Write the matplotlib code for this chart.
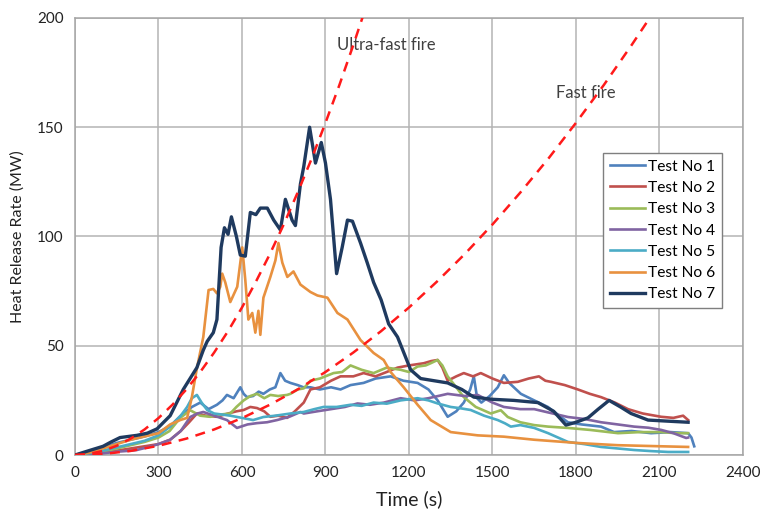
import matplotlib
matplotlib.use('Agg')
import matplotlib.pyplot as plt

plt.rcParams['font.family'] = ['Lato', 'DejaVu Sans']

# t-squared design fires (MW)
ULTRA_T = [0, 50, 100, 150, 200, 250, 300, 350, 400, 450, 500, 550, 600, 650,
           700, 750, 800, 850, 900, 950, 1000, 1033]
ULTRA_Q = [0, 0.47, 1.88, 4.22, 7.5, 11.7, 16.9, 23.0, 30.0, 38.0, 46.9, 56.7,
           67.5, 79.3, 91.9, 105.5, 120.1, 135.5, 152.0, 169.3, 187.6, 200.2]
FAST_T = [0, 100, 200, 300, 400, 500, 600, 700, 800, 900, 1000, 1100, 1200,
          1300, 1400, 1500, 1600, 1700, 1800, 1900, 2000, 2065]
FAST_Q = [0, 0.47, 1.88, 4.22, 7.5, 11.7, 16.9, 23.0, 30.0, 38.0, 46.9, 56.7,
          67.5, 79.3, 91.9, 105.5, 120.1, 135.5, 152.0, 169.3, 187.6, 200.0]

T1 = [0, 30, 60, 100, 150, 200, 250, 300, 340, 380, 420, 450, 480, 510, 530,
      546, 570, 594, 606, 618, 640, 660, 677, 700, 720, 738, 755, 774, 800,
      821, 846, 880, 920, 954, 990, 1037, 1080, 1134, 1180, 1231, 1270, 1303,
      1339, 1370, 1397, 1420, 1433, 1445, 1460, 1490, 1519, 1541, 1560, 1602,
      1650, 1699, 1740, 1771, 1820, 1890, 1937, 2000, 2070, 2140, 2203, 2215,
      2225]
Q1 = [0, 1, 2, 3.5, 5.5, 7, 8.5, 10.5, 13, 18, 22, 24, 21, 23, 25, 27.5, 26,
      31, 28, 26.5, 27, 29, 28, 30, 31, 37.5, 34, 33, 32, 31, 31, 30, 31, 30,
      32, 33, 35, 36, 34, 33, 30, 25, 17.5, 20, 24, 30, 36, 26, 24, 27, 31,
      36.5, 33, 28, 25, 22, 18, 15, 14, 13, 10.5, 11, 10, 10.5, 10, 8, 4]

T2 = [0, 50, 100, 150, 200, 250, 300, 342, 380, 410, 438, 470, 510, 550, 580,
      606, 630, 654, 680, 702, 730, 762, 790, 822, 846, 880, 920, 954, 1000,
      1037, 1080, 1120, 1159, 1200, 1253, 1280, 1303, 1320, 1339, 1370, 1397,
      1430, 1458, 1500, 1541, 1591, 1630, 1667, 1690, 1710, 1760, 1807, 1850,
      1890, 1940, 1987, 2040, 2106, 2150, 2185, 2203]
Q2 = [0, 0.5, 1, 2, 3, 4, 5, 7, 11, 15, 19, 18, 17.5, 19, 20, 20.6, 22, 21.5,
      20, 17.5, 18, 17, 20, 24, 30, 31, 34, 36, 36, 37.5, 36, 38, 40, 41, 42,
      43, 43.5, 40, 34, 36, 37.5, 36, 37.5, 35, 33, 33.5, 35, 36, 34, 33.5,
      32, 30, 28, 26.5, 24, 21, 19, 17.5, 17, 18, 16]

T3 = [0, 50, 100, 150, 200, 250, 300, 340, 378, 414, 450, 486, 520, 558, 580,
      606, 630, 654, 680, 702, 730, 762, 774, 800, 822, 846, 880, 929, 960,
      990, 1030, 1073, 1120, 1170, 1200, 1231, 1260, 1278, 1303, 1320, 1339,
      1370, 1397, 1440, 1494, 1530, 1555, 1600, 1650, 1700, 1771, 1850, 1951,
      2030, 2106, 2160, 2203]
Q3 = [0, 0.5, 1.5, 3, 4.5, 6, 8, 11, 17, 20.5, 18, 17.5, 18.5, 19, 22, 25, 27,
      28, 26, 27.5, 27, 27.5, 28, 30, 30.5, 34, 35, 37.5, 38, 41, 39, 37.5,
      40, 39, 38, 40.5, 41, 42, 43.5, 41, 36, 31, 26.5, 22, 19, 20.5, 17.4,
      15, 13.7, 13, 12.4, 11.5, 10, 10.5, 10.5, 10, 10]

T4 = [0, 50, 100, 150, 200, 222, 260, 300, 342, 380, 414, 440, 461, 500, 546,
      582, 620, 654, 690, 726, 770, 810, 822, 870, 920, 970, 1015, 1060, 1110,
      1170, 1220, 1270, 1339, 1400, 1447, 1500, 1541, 1600, 1650, 1700, 1771,
      1830, 1890, 1950, 2009, 2060, 2106, 2150, 2196, 2203]
Q4 = [0, 0.3, 0.8, 1.5, 2, 2.3, 3.5, 5, 7, 11, 17.4, 19, 19.7, 18, 16, 12.4,
      14, 14.6, 15, 16, 17.5, 19.7, 19, 20, 21, 22, 23.6, 23, 24, 26, 25, 26,
      28, 27, 27.5, 24, 22, 21, 21, 19.5, 17.4, 16.5, 15, 14, 13, 12.5, 11.5,
      10, 7.8, 8]

T5 = [0, 50, 100, 150, 200, 250, 300, 342, 380, 403, 420, 438, 455, 475, 500,
      530, 558, 600, 640, 677, 720, 774, 822, 860, 893, 940, 990, 1030, 1073,
      1120, 1170, 1231, 1270, 1303, 1350, 1380, 1422, 1470, 1519, 1545, 1566,
      1600, 1650, 1700, 1771, 1830, 1890, 1950, 2009, 2070, 2131, 2203]
Q5 = [0, 0.8, 2, 3.5, 5, 6.5, 9, 13, 18, 22, 26, 27.5, 24, 20.6, 19, 18.5, 18,
      17, 16, 17.4, 18, 19, 19.7, 21, 22, 22, 23, 22.5, 24, 23.5, 25, 26, 25,
      23.6, 22, 21.5, 20.6, 18, 16, 14.5, 13, 13.7, 12.4, 10, 6, 5, 3.7, 3,
      2.3, 1.8, 1.4, 1.4]

T6 = [0, 50, 100, 150, 200, 250, 300, 342, 378, 403, 420, 437, 461, 480, 497,
      510, 522, 529, 540, 558, 583, 601, 612, 623, 637, 648, 659, 666, 677,
      702, 720, 731, 745, 763, 785, 810, 846, 871, 907, 943, 979, 1026, 1073,
      1109, 1134, 1181, 1231, 1278, 1350, 1447, 1541, 1650, 1807, 1950, 2106,
      2203]
Q6 = [0, 1, 3, 5, 7, 8.5, 10, 14, 16, 17, 26.5, 39, 54, 75.5, 76, 74, 77, 83,
      79, 70, 77, 95, 80, 62, 65, 56, 66, 55, 72, 81.5, 89, 97, 88, 81.5, 84,
      78, 74.6, 73, 72, 65, 62, 52.6, 46.7, 43.5, 38, 31, 23, 16, 10.5, 9,
      8.4, 7, 5.5, 4.5, 4, 3.7]

T7 = [0, 50, 101, 130, 162, 222, 260, 295, 342, 389, 438, 461, 475, 497, 510,
      525, 537, 550, 562, 580, 594, 612, 630, 650, 666, 691, 714, 738, 756,
      780, 792, 810, 822, 843, 864, 885, 900, 918, 940, 960, 979, 997, 1026,
      1050, 1073, 1100, 1127, 1159, 1206, 1242, 1290, 1339, 1390, 1433, 1500,
      1577, 1663, 1720, 1764, 1800, 1843, 1880, 1919, 1960, 1998, 2059, 2130,
      2203]
Q7 = [0, 2, 4, 6, 8, 9, 10, 12, 18, 30, 40, 48, 52, 56, 62, 95, 104, 101, 109,
      100, 91.5, 91, 111, 110, 113, 113, 107.5, 103, 117, 107.5, 105, 124,
      132, 150, 133.6, 143, 133.6, 117, 83, 95, 107.5, 107, 97, 88, 79, 71,
      60, 54, 39, 35, 34, 33, 30, 26.5, 25.5, 25, 24, 20, 13.7, 15, 17, 21,
      25, 22, 19, 16, 15.5, 15]

LABELS = ['Test No 1', 'Test No 2', 'Test No 3', 'Test No 4', 'Test No 5',
          'Test No 6', 'Test No 7']
COLORS = ['#4F81BD', '#C0504D', '#9BBB59', '#8064A2', '#4BACC6', '#E8913F',
          '#1F3A5F']


def plot_hrr():
    fig = plt.figure(figsize=(7.62, 5.13), dpi=100)
    ax = fig.add_axes([0.0984, 0.113, 0.8766, 0.852])

    series = [(T1, Q1), (T2, Q2), (T3, Q3), (T4, Q4), (T5, Q5), (T6, Q6), (T7, Q7)]
    for (t, q), label, color in zip(series, LABELS, COLORS):
        lw = 2.4 if label == 'Test No 7' else 1.9
        ax.plot(t, q, color=color, lw=lw, label=label, zorder=3)

    ax.plot(ULTRA_T, ULTRA_Q, color='#FF1A1A', lw=1.8, ls=(0, (4, 3)), zorder=4)
    ax.plot(FAST_T, FAST_Q, color='#FF1A1A', lw=1.8, ls=(0, (4, 3)), zorder=4)
    ax.text(943, 187.5, 'Ultra-fast fire', fontsize=12, color='#404040', va='center')
    ax.text(1728, 165.5, 'Fast fire', fontsize=12, color='#404040', va='center')

    ax.set_xlim(0, 2400)
    ax.set_ylim(0, 200)
    ax.set_xticks(range(0, 2401, 300))
    ax.set_yticks(range(0, 201, 50))
    ax.grid(True, color='#B4B4B4', lw=1.1)
    ax.set_axisbelow(True)
    for sp in ax.spines.values():
        sp.set_color('#A6A6A6')
        sp.set_linewidth(1.1)
    ax.tick_params(length=0, labelsize=11, colors='#222222', pad=8)
    ax.set_xlabel('Time (s)', fontsize=14, color='#222222', labelpad=7)
    ax.set_ylabel('Heat Release Rate (MW)', fontsize=11.5, color='#222222', labelpad=9)

    leg = ax.legend(loc='upper left', bbox_to_anchor=(0.79, 0.692), fontsize=11.2,
                    frameon=True, fancybox=False, edgecolor='#7F7F7F',
                    framealpha=1, handlelength=2.3, handletextpad=0.15,
                    labelspacing=0.47, borderpad=0.45, borderaxespad=0)
    leg.get_frame().set_linewidth(1.0)

    fig.savefig('out.png', dpi=100)


if __name__ == '__main__':
    plot_hrr()
